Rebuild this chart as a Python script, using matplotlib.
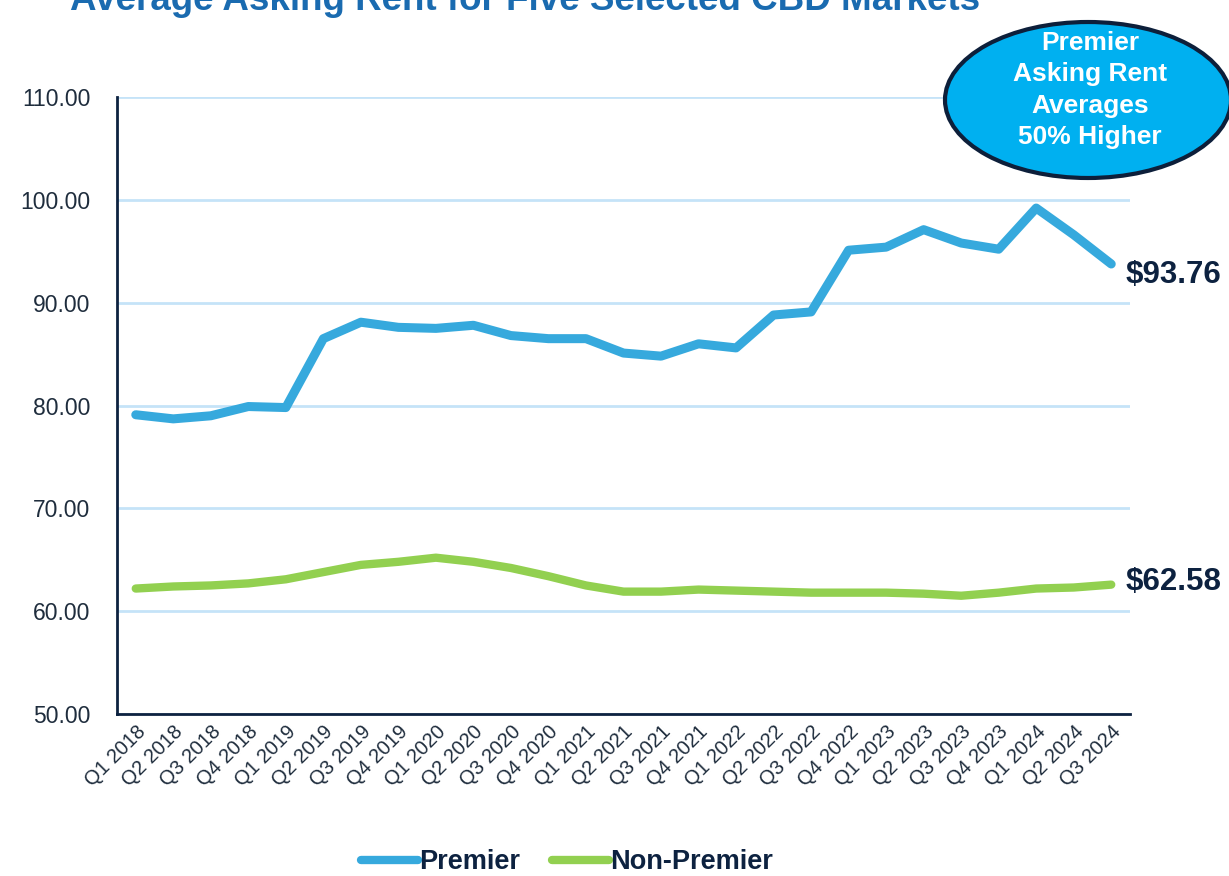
import numpy as np
import matplotlib
matplotlib.use("Agg")
import matplotlib.pyplot as plt
from matplotlib.patches import Ellipse
from matplotlib.lines import Line2D

plt.rcParams['font.family'] = ['Liberation Sans', 'DejaVu Sans']

quarters = ["Q1 2018", "Q2 2018", "Q3 2018", "Q4 2018",
            "Q1 2019", "Q2 2019", "Q3 2019", "Q4 2019",
            "Q1 2020", "Q2 2020", "Q3 2020", "Q4 2020",
            "Q1 2021", "Q2 2021", "Q3 2021", "Q4 2021",
            "Q1 2022", "Q2 2022", "Q3 2022", "Q4 2022",
            "Q1 2023", "Q2 2023", "Q3 2023", "Q4 2023",
            "Q1 2024", "Q2 2024", "Q3 2024"]
premier = [79.1, 78.7, 79.0, 79.9, 79.8, 86.5, 88.1, 87.6, 87.5, 87.8,
           86.8, 86.5, 86.5, 85.1, 84.8, 86.0, 85.6, 88.8, 89.1, 95.1,
           95.4, 97.1, 95.8, 95.2, 99.2, 96.6, 93.76]
non_premier = [62.2, 62.4, 62.5, 62.7, 63.1, 63.8, 64.5, 64.8, 65.2, 64.8,
               64.2, 63.4, 62.5, 61.9, 61.9, 62.1, 62.0, 61.9, 61.8, 61.8,
               61.8, 61.7, 61.5, 61.8, 62.2, 62.3, 62.58]
yticks = [50, 60, 70, 80, 90, 100, 110]

navy = "#0d2240"
blue = "#36a9dd"
green = "#92d050"

fig = plt.figure(figsize=(12.29, 8.76), dpi=100)
ax = fig.add_axes([117/1229, 1-714/876, 1013/1229, 617/876])

x = np.arange(len(quarters))
ax.plot(x, premier, color=blue, lw=6.5, solid_capstyle='round', solid_joinstyle='round')
ax.plot(x, non_premier, color=green, lw=6, solid_capstyle='round', solid_joinstyle='round')

ax.set_xlim(-0.5, len(quarters) - 0.5)
ax.set_ylim(50, 110)
ax.set_yticks(yticks)
ax.set_yticklabels([f"{v:.2f}" for v in yticks])
ax.set_xticks(x)
ax.set_xticklabels(quarters, rotation=45, ha='right', rotation_mode='anchor')
ax.tick_params(axis='both', length=0, colors="#1f2d3d")
ax.tick_params(axis='y', pad=19, labelsize=16.5)
ax.tick_params(axis='x', pad=6, labelsize=14.5)
ax.grid(axis='y', color="#c5e3f8", lw=2)
ax.set_axisbelow(True)
for s in ['top', 'right']:
    ax.spines[s].set_visible(False)
for s in ['left', 'bottom']:
    ax.spines[s].set_color(navy)
    ax.spines[s].set_linewidth(2)

ax.annotate(f"${premier[-1]:.2f}", (x[-1], premier[-1]), xytext=(10, -8),
            textcoords='offset points', va='center', ha='left',
            fontsize=22.5, fontweight='bold', color=navy, annotation_clip=False)
ax.annotate(f"${non_premier[-1]:.2f}", (x[-1], non_premier[-1]), xytext=(10, 2),
            textcoords='offset points', va='center', ha='left',
            fontsize=22.5, fontweight='bold', color=navy, annotation_clip=False)

fig.text(70/1229, 1-10/876, "Average Asking Rent for Five Selected CBD Markets",
         fontsize=26.5, fontweight='bold', color="#1a6bb0", va='baseline', ha='left')

ell = Ellipse((1088/1229, 1-100/876), 286/1229, 156/876, transform=fig.transFigure,
              facecolor="#00b0f0", edgecolor="#0d1f3a", lw=3)
fig.add_artist(ell)
fig.text(1090/1229, 1-90/876, "Premier\nAsking Rent\nAverages\n50% Higher",
         ha='center', va='center', fontsize=19, fontweight='bold', color='white',
         linespacing=1.38)

handles = [Line2D([], [], color=blue, lw=6, solid_capstyle='round'),
           Line2D([], [], color=green, lw=6, solid_capstyle='round')]
leg = fig.legend(handles, ["Premier", "Non-Premier"], loc='center',
                 bbox_to_anchor=(567/1229, 1-862/876), ncol=2, frameon=False,
                 handlelength=2.1, handletextpad=0.05, columnspacing=1.15,
                 prop={'size': 19.5, 'weight': 'bold'})
for t in leg.get_texts():
    t.set_color(navy)

fig.savefig("out.png", dpi=100)
